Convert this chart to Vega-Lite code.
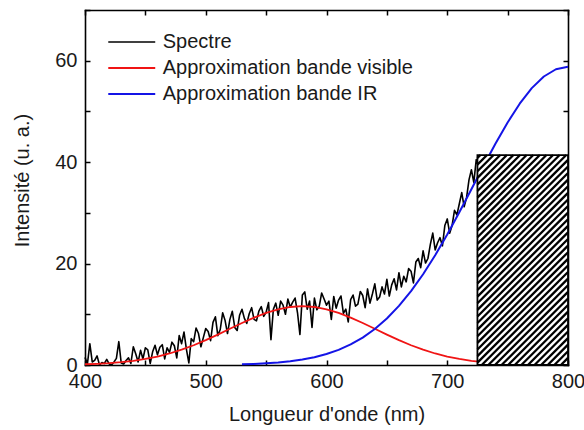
{
  "$schema": "https://vega.github.io/schema/vega-lite/v6.json",
  "width": 483,
  "height": 355,
  "autosize": {"type": "none"},
  "padding": {"left": 85, "top": 10, "right": 16, "bottom": 65},
  "background": "white",
  "config": {
    "view": {"stroke": null},
    "font": "Liberation Sans",
    "axis": {
      "labelFont": "Liberation Sans", "labelFontSize": 20, "labelColor": "#1a1a1a",
      "titleFont": "Liberation Sans", "titleFontSize": 20, "titleFontWeight": "normal", "titleColor": "#1a1a1a",
      "domainColor": "black", "domainWidth": 1.6, "domainCap": "square",
      "tickColor": "black", "tickWidth": 1.5, "tickSize": -5, "grid": false,
      "labelFlush": false, "labelOverlap": false
    },
    "legend": {
      "labelFont": "Liberation Sans", "labelFontSize": 20, "labelColor": "#1a1a1a", "labelLimit": 0
    }
  },
  "datasets": {
    "curves": [
      {"series":"Spectre","wl":400,"val":1.5},{"series":"Spectre","wl":402,"val":0.2},{"series":"Spectre","wl":404,"val":4.2},{"series":"Spectre","wl":406,"val":0.6},{"series":"Spectre","wl":408,"val":0.9},{"series":"Spectre","wl":410,"val":1.8},{"series":"Spectre","wl":412,"val":0.0},{"series":"Spectre","wl":414,"val":0.5},{"series":"Spectre","wl":416,"val":0.3},{"series":"Spectre","wl":418,"val":1.1},
      {"series":"Spectre","wl":420,"val":0.2},{"series":"Spectre","wl":422,"val":0.0},{"series":"Spectre","wl":424,"val":0.6},{"series":"Spectre","wl":426,"val":1.3},{"series":"Spectre","wl":428,"val":4.6},{"series":"Spectre","wl":430,"val":0.4},{"series":"Spectre","wl":432,"val":0.2},{"series":"Spectre","wl":434,"val":0.9},{"series":"Spectre","wl":436,"val":1.4},{"series":"Spectre","wl":438,"val":0.3},
      {"series":"Spectre","wl":440,"val":3.6},{"series":"Spectre","wl":442,"val":2.2},{"series":"Spectre","wl":444,"val":0.6},{"series":"Spectre","wl":446,"val":2.9},{"series":"Spectre","wl":448,"val":1.2},{"series":"Spectre","wl":450,"val":3.4},{"series":"Spectre","wl":452,"val":3.0},{"series":"Spectre","wl":454,"val":0.3},{"series":"Spectre","wl":456,"val":2.6},{"series":"Spectre","wl":458,"val":3.9},
      {"series":"Spectre","wl":460,"val":2.0},{"series":"Spectre","wl":462,"val":3.5},{"series":"Spectre","wl":464,"val":4.0},{"series":"Spectre","wl":466,"val":1.2},{"series":"Spectre","wl":468,"val":3.4},{"series":"Spectre","wl":470,"val":2.5},{"series":"Spectre","wl":472,"val":4.5},{"series":"Spectre","wl":474,"val":3.8},{"series":"Spectre","wl":476,"val":1.4},{"series":"Spectre","wl":478,"val":5.8},
      {"series":"Spectre","wl":480,"val":4.2},{"series":"Spectre","wl":482,"val":6.5},{"series":"Spectre","wl":484,"val":3.1},{"series":"Spectre","wl":486,"val":0.4},{"series":"Spectre","wl":488,"val":5.2},{"series":"Spectre","wl":490,"val":4.6},{"series":"Spectre","wl":492,"val":7.3},{"series":"Spectre","wl":494,"val":6.2},{"series":"Spectre","wl":496,"val":3.6},{"series":"Spectre","wl":498,"val":5.4},
      {"series":"Spectre","wl":500,"val":7.2},{"series":"Spectre","wl":502,"val":6.6},{"series":"Spectre","wl":504,"val":4.8},{"series":"Spectre","wl":506,"val":8.4},{"series":"Spectre","wl":508,"val":9.5},{"series":"Spectre","wl":510,"val":5.8},{"series":"Spectre","wl":512,"val":7.0},{"series":"Spectre","wl":514,"val":10.3},{"series":"Spectre","wl":516,"val":8.8},{"series":"Spectre","wl":518,"val":6.2},
      {"series":"Spectre","wl":520,"val":9.0},{"series":"Spectre","wl":522,"val":10.6},{"series":"Spectre","wl":524,"val":7.4},{"series":"Spectre","wl":526,"val":6.8},{"series":"Spectre","wl":528,"val":9.8},{"series":"Spectre","wl":530,"val":11.0},{"series":"Spectre","wl":532,"val":9.2},{"series":"Spectre","wl":534,"val":8.2},{"series":"Spectre","wl":536,"val":10.1},{"series":"Spectre","wl":538,"val":11.3},
      {"series":"Spectre","wl":540,"val":9.0},{"series":"Spectre","wl":542,"val":8.7},{"series":"Spectre","wl":544,"val":10.6},{"series":"Spectre","wl":546,"val":11.5},{"series":"Spectre","wl":548,"val":9.6},{"series":"Spectre","wl":550,"val":10.4},{"series":"Spectre","wl":552,"val":12.3},{"series":"Spectre","wl":554,"val":5.0},{"series":"Spectre","wl":556,"val":11.0},{"series":"Spectre","wl":558,"val":12.2},
      {"series":"Spectre","wl":560,"val":9.8},{"series":"Spectre","wl":562,"val":12.6},{"series":"Spectre","wl":564,"val":11.8},{"series":"Spectre","wl":566,"val":10.0},{"series":"Spectre","wl":568,"val":13.0},{"series":"Spectre","wl":570,"val":11.4},{"series":"Spectre","wl":572,"val":12.4},{"series":"Spectre","wl":574,"val":13.2},{"series":"Spectre","wl":576,"val":10.3},{"series":"Spectre","wl":578,"val":6.0},
      {"series":"Spectre","wl":580,"val":13.8},{"series":"Spectre","wl":582,"val":14.4},{"series":"Spectre","wl":584,"val":11.0},{"series":"Spectre","wl":586,"val":12.6},{"series":"Spectre","wl":588,"val":7.4},{"series":"Spectre","wl":590,"val":13.2},{"series":"Spectre","wl":592,"val":10.9},{"series":"Spectre","wl":594,"val":11.6},{"series":"Spectre","wl":596,"val":14.2},{"series":"Spectre","wl":598,"val":13.0},
      {"series":"Spectre","wl":600,"val":11.8},{"series":"Spectre","wl":602,"val":12.6},{"series":"Spectre","wl":604,"val":9.0},{"series":"Spectre","wl":606,"val":13.5},{"series":"Spectre","wl":608,"val":11.2},{"series":"Spectre","wl":610,"val":12.8},{"series":"Spectre","wl":612,"val":13.6},{"series":"Spectre","wl":614,"val":10.2},{"series":"Spectre","wl":616,"val":11.0},{"series":"Spectre","wl":618,"val":8.5},
      {"series":"Spectre","wl":620,"val":12.9},{"series":"Spectre","wl":622,"val":13.8},{"series":"Spectre","wl":624,"val":11.6},{"series":"Spectre","wl":626,"val":12.0},{"series":"Spectre","wl":628,"val":14.5},{"series":"Spectre","wl":630,"val":13.7},{"series":"Spectre","wl":632,"val":11.3},{"series":"Spectre","wl":634,"val":15.0},{"series":"Spectre","wl":636,"val":12.2},{"series":"Spectre","wl":638,"val":14.0},
      {"series":"Spectre","wl":640,"val":16.0},{"series":"Spectre","wl":642,"val":12.8},{"series":"Spectre","wl":644,"val":13.4},{"series":"Spectre","wl":646,"val":15.4},{"series":"Spectre","wl":648,"val":14.0},{"series":"Spectre","wl":650,"val":16.9},{"series":"Spectre","wl":652,"val":13.6},{"series":"Spectre","wl":654,"val":15.8},{"series":"Spectre","wl":656,"val":17.0},{"series":"Spectre","wl":658,"val":14.8},
      {"series":"Spectre","wl":660,"val":18.2},{"series":"Spectre","wl":662,"val":15.4},{"series":"Spectre","wl":664,"val":17.5},{"series":"Spectre","wl":666,"val":16.4},{"series":"Spectre","wl":668,"val":19.0},{"series":"Spectre","wl":670,"val":18.5},{"series":"Spectre","wl":672,"val":16.2},{"series":"Spectre","wl":674,"val":20.3},{"series":"Spectre","wl":676,"val":21.0},{"series":"Spectre","wl":678,"val":19.2},
      {"series":"Spectre","wl":680,"val":22.5},{"series":"Spectre","wl":682,"val":20.1},{"series":"Spectre","wl":684,"val":21.0},{"series":"Spectre","wl":686,"val":23.8},{"series":"Spectre","wl":688,"val":26.0},{"series":"Spectre","wl":690,"val":22.7},{"series":"Spectre","wl":692,"val":24.1},{"series":"Spectre","wl":694,"val":25.1},{"series":"Spectre","wl":696,"val":23.5},{"series":"Spectre","wl":698,"val":27.5},
      {"series":"Spectre","wl":700,"val":28.8},{"series":"Spectre","wl":702,"val":26.0},{"series":"Spectre","wl":704,"val":27.5},{"series":"Spectre","wl":706,"val":30.5},{"series":"Spectre","wl":708,"val":29.6},{"series":"Spectre","wl":710,"val":31.8},{"series":"Spectre","wl":712,"val":34.0},{"series":"Spectre","wl":714,"val":31.2},{"series":"Spectre","wl":716,"val":33.0},{"series":"Spectre","wl":718,"val":36.5},
      {"series":"Spectre","wl":720,"val":38.5},{"series":"Spectre","wl":722,"val":36.0},{"series":"Spectre","wl":724,"val":40.5},{"series":"Spectre","wl":726,"val":39.0},
      {"series":"Approximation bande visible","wl":400,"val":0.15},{"series":"Approximation bande visible","wl":410,"val":0.24},{"series":"Approximation bande visible","wl":420,"val":0.37},{"series":"Approximation bande visible","wl":430,"val":0.56},{"series":"Approximation bande visible","wl":440,"val":0.83},{"series":"Approximation bande visible","wl":450,"val":1.19},{"series":"Approximation bande visible","wl":460,"val":1.67},{"series":"Approximation bande visible","wl":470,"val":2.27},{"series":"Approximation bande visible","wl":480,"val":3.02},{"series":"Approximation bande visible","wl":490,"val":3.90},
      {"series":"Approximation bande visible","wl":500,"val":4.90},{"series":"Approximation bande visible","wl":510,"val":6.00},{"series":"Approximation bande visible","wl":520,"val":7.14},{"series":"Approximation bande visible","wl":530,"val":8.28},{"series":"Approximation bande visible","wl":540,"val":9.35},{"series":"Approximation bande visible","wl":550,"val":10.28},{"series":"Approximation bande visible","wl":560,"val":10.99},{"series":"Approximation bande visible","wl":570,"val":11.44},{"series":"Approximation bande visible","wl":580,"val":11.6},{"series":"Approximation bande visible","wl":590,"val":11.44},
      {"series":"Approximation bande visible","wl":600,"val":10.99},{"series":"Approximation bande visible","wl":610,"val":10.28},{"series":"Approximation bande visible","wl":620,"val":9.35},{"series":"Approximation bande visible","wl":630,"val":8.28},{"series":"Approximation bande visible","wl":640,"val":7.14},{"series":"Approximation bande visible","wl":650,"val":6.00},{"series":"Approximation bande visible","wl":660,"val":4.90},{"series":"Approximation bande visible","wl":670,"val":3.90},{"series":"Approximation bande visible","wl":680,"val":3.02},{"series":"Approximation bande visible","wl":690,"val":2.27},
      {"series":"Approximation bande visible","wl":700,"val":1.67},{"series":"Approximation bande visible","wl":710,"val":1.19},{"series":"Approximation bande visible","wl":720,"val":0.83},{"series":"Approximation bande visible","wl":730,"val":0.56},{"series":"Approximation bande visible","wl":740,"val":0.37},{"series":"Approximation bande visible","wl":750,"val":0.24},{"series":"Approximation bande visible","wl":760,"val":0.15},{"series":"Approximation bande visible","wl":770,"val":0.09},{"series":"Approximation bande visible","wl":780,"val":0.06},{"series":"Approximation bande visible","wl":790,"val":0.03},{"series":"Approximation bande visible","wl":800,"val":0.02},
      {"series":"Approximation bande IR","wl":530,"val":0.14},{"series":"Approximation bande IR","wl":540,"val":0.22},{"series":"Approximation bande IR","wl":550,"val":0.34},{"series":"Approximation bande IR","wl":560,"val":0.51},{"series":"Approximation bande IR","wl":570,"val":0.75},{"series":"Approximation bande IR","wl":580,"val":1.08},{"series":"Approximation bande IR","wl":590,"val":1.54},{"series":"Approximation bande IR","wl":600,"val":2.16},{"series":"Approximation bande IR","wl":610,"val":2.98},{"series":"Approximation bande IR","wl":620,"val":4.05},
      {"series":"Approximation bande IR","wl":630,"val":5.41},{"series":"Approximation bande IR","wl":640,"val":7.10},{"series":"Approximation bande IR","wl":650,"val":9.17},{"series":"Approximation bande IR","wl":660,"val":11.65},{"series":"Approximation bande IR","wl":670,"val":14.57},{"series":"Approximation bande IR","wl":680,"val":17.90},{"series":"Approximation bande IR","wl":690,"val":21.65},{"series":"Approximation bande IR","wl":700,"val":25.75},{"series":"Approximation bande IR","wl":710,"val":30.12},{"series":"Approximation bande IR","wl":720,"val":34.66},
      {"series":"Approximation bande IR","wl":730,"val":39.23},{"series":"Approximation bande IR","wl":740,"val":43.68},{"series":"Approximation bande IR","wl":750,"val":47.83},{"series":"Approximation bande IR","wl":760,"val":51.52},{"series":"Approximation bande IR","wl":770,"val":54.59},{"series":"Approximation bande IR","wl":780,"val":56.89},{"series":"Approximation bande IR","wl":790,"val":58.32},{"series":"Approximation bande IR","wl":800,"val":58.8}
    ],
    "box": [{"x1": 725, "x2": 800, "y1": 0, "y2": 41.4}],
    "hatch": [
      {"a":725,"b":40.81,"c":727.48,"d":41.4},{"a":725,"b":39.51,"c":732.95,"d":41.4},{"a":725,"b":38.21,"c":738.42,"d":41.4},{"a":725,"b":36.90,"c":743.88,"d":41.4},{"a":725,"b":35.60,"c":749.35,"d":41.4},{"a":725,"b":34.30,"c":754.82,"d":41.4},{"a":725,"b":33.00,"c":760.28,"d":41.4},{"a":725,"b":31.70,"c":765.75,"d":41.4},{"a":725,"b":30.40,"c":771.21,"d":41.4},{"a":725,"b":29.09,"c":776.68,"d":41.4},{"a":725,"b":27.79,"c":782.15,"d":41.4},{"a":725,"b":26.49,"c":787.61,"d":41.4},{"a":725,"b":25.19,"c":793.08,"d":41.4},{"a":725,"b":23.89,"c":798.54,"d":41.4},
      {"a":725,"b":22.59,"c":800,"d":40.45},{"a":725,"b":21.29,"c":800,"d":39.15},{"a":725,"b":19.98,"c":800,"d":37.85},{"a":725,"b":18.68,"c":800,"d":36.55},{"a":725,"b":17.38,"c":800,"d":35.25},{"a":725,"b":16.08,"c":800,"d":33.95},{"a":725,"b":14.78,"c":800,"d":32.64},{"a":725,"b":13.48,"c":800,"d":31.34},{"a":725,"b":12.18,"c":800,"d":30.04},{"a":725,"b":10.87,"c":800,"d":28.74},{"a":725,"b":9.57,"c":800,"d":27.44},{"a":725,"b":8.27,"c":800,"d":26.14},{"a":725,"b":6.97,"c":800,"d":24.84},{"a":725,"b":5.67,"c":800,"d":23.53},{"a":725,"b":4.37,"c":800,"d":22.23},{"a":725,"b":3.06,"c":800,"d":20.93},{"a":725,"b":1.76,"c":800,"d":19.63},{"a":725,"b":0.46,"c":800,"d":18.33},
      {"a":728.56,"b":0,"c":800,"d":17.03},{"a":734.03,"b":0,"c":800,"d":15.72},{"a":739.49,"b":0,"c":800,"d":14.42},{"a":744.96,"b":0,"c":800,"d":13.12},{"a":750.43,"b":0,"c":800,"d":11.82},{"a":755.89,"b":0,"c":800,"d":10.52},{"a":761.36,"b":0,"c":800,"d":9.22},{"a":766.82,"b":0,"c":800,"d":7.92},{"a":772.29,"b":0,"c":800,"d":6.61},{"a":777.76,"b":0,"c":800,"d":5.31},{"a":783.22,"b":0,"c":800,"d":4.01},{"a":788.69,"b":0,"c":800,"d":2.71},{"a":794.15,"b":0,"c":800,"d":1.41}
    ]
  },
  "layer": [
    {
      "data": {"name": "curves"},
      "mark": {"type": "line", "strokeJoin": "round"},
      "encoding": {
        "x": {
          "field": "wl", "type": "quantitative",
          "scale": {"domain": [400, 800], "nice": false, "zero": false},
          "axis": {
            "orient": "bottom",
            "values": [400, 450, 500, 550, 600, 650, 700, 750, 800],
            "labelExpr": "datum.value % 100 === 0 ? datum.label : ''",
            "labelPadding": 11,
            "title": "Longueur d'onde (nm)",
            "titleY": 55, "titleBaseline": "alphabetic"
          }
        },
        "y": {
          "field": "val", "type": "quantitative",
          "scale": {"domain": [0, 70], "nice": false},
          "axis": {
            "orient": "left",
            "values": [0, 10, 20, 30, 40, 50, 60, 70],
            "labelExpr": "datum.value % 20 === 0 ? datum.label : ''",
            "labelPadding": 13,
            "title": "Intensité (u. a.)",
            "titleX": -57, "titleY": 170, "titleAngle": 270,
            "titleAlign": "center", "titleBaseline": "alphabetic"
          }
        },
        "color": {
          "field": "series", "type": "nominal",
          "scale": {
            "domain": ["Spectre", "Approximation bande visible", "Approximation bande IR"],
            "range": ["#000000", "#f01414", "#1414e6"]
          },
          "legend": {
            "title": null, "orient": "none", "legendX": 36.75, "legendY": 22,
            "symbolType": "M-3.5,0L3.5,0", "symbolSize": 180, "symbolStrokeWidth": 2,
            "labelOffset": 21, "rowPadding": 6, "padding": 0, "labelLimit": 0
          }
        },
        "strokeWidth": {
          "field": "series", "type": "nominal",
          "scale": {
            "domain": ["Spectre", "Approximation bande visible", "Approximation bande IR"],
            "range": [1.6, 2, 2]
          },
          "legend": null
        }
      }
    },
    {
      "data": {"name": "box"},
      "mark": {"type": "rect", "fill": "white", "stroke": "black", "strokeWidth": 1.8},
      "encoding": {
        "x": {
          "field": "x1", "type": "quantitative",
          "axis": {"orient": "top", "values": [400, 450, 500, 550, 600, 650, 700, 750, 800], "labels": false, "title": null}
        },
        "x2": {"field": "x2"},
        "y": {
          "field": "y1", "type": "quantitative",
          "axis": {"orient": "right", "values": [0, 10, 20, 30, 40, 50, 60, 70], "labels": false, "title": null}
        },
        "y2": {"field": "y2"}
      }
    },
    {
      "data": {"name": "hatch"},
      "mark": {"type": "rule", "color": "black", "strokeWidth": 2.3},
      "encoding": {
        "x": {"field": "a", "type": "quantitative", "axis": null},
        "y": {"field": "b", "type": "quantitative", "axis": null},
        "x2": {"field": "c"},
        "y2": {"field": "d"}
      }
    }
  ],
  "resolve": {"axis": {"x": "independent", "y": "independent"}}
}
